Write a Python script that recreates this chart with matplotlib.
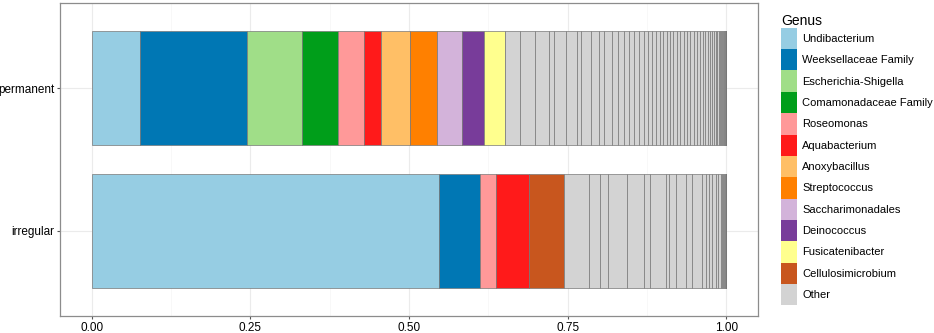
import numpy as np
import matplotlib
matplotlib.use("Agg")
import matplotlib.pyplot as plt
from matplotlib.patches import Patch

# -------- data --------
samples = ["irregular", "permanent"]

genera = ["Undibacterium", "Weeksellaceae Family", "Escherichia-Shigella",
          "Comamonadaceae Family", "Roseomonas", "Aquabacterium", "Anoxybacillus",
          "Streptococcus", "Saccharimonadales", "Deinococcus", "Fusicatenibacter",
          "Cellulosimicrobium", "Other"]

genus_colors = ["#96CDE3", "#0077B4", "#A0DE88", "#009E1A", "#FF9999", "#FF1A1A",
                "#FFBF66", "#FF8000", "#D3B3DA", "#783C9A", "#FFFF8E", "#C8561E",
                "#D3D3D3"]

# named genera, left to right
perm_genera = ["Undibacterium", "Weeksellaceae Family", "Escherichia-Shigella",
               "Comamonadaceae Family", "Roseomonas", "Aquabacterium", "Anoxybacillus",
               "Streptococcus", "Saccharimonadales", "Deinococcus", "Fusicatenibacter"]
perm_values = [0.076, 0.170, 0.086, 0.058, 0.041, 0.027, 0.045, 0.043, 0.039, 0.036, 0.032]

irr_genera = ["Undibacterium", "Weeksellaceae Family", "Roseomonas", "Aquabacterium",
              "Cellulosimicrobium"]
irr_values = [0.547, 0.065, 0.026, 0.052, 0.054]

# the many small "Other" genera
perm_other = [0.0245, 0.0236, 0.0226, 0.0079, 0.0182, 0.0168, 0.0068, 0.0157, 0.0132,
              0.0079, 0.0119, 0.0105, 0.0090, 0.0079, 0.0079, 0.0079, 0.0079, 0.0068,
              0.0063, 0.0055, 0.0063, 0.0055, 0.0055, 0.0053, 0.0055, 0.0052, 0.0055,
              0.0052, 0.0053, 0.0052, 0.0053, 0.0052, 0.0045, 0.0052, 0.0040, 0.0040,
              0.0035, 0.0032, 0.0030, 0.0028, 0.0025, 0.0022, 0.0020, 0.0018, 0.0015,
              0.0012, 0.0010, 0.0008, 0.0006, 0.0005, 0.0004, 0.0003, 0.0003, 0.0002,
              0.0002, 0.0002, 0.0001, 0.0001, 0.0001, 0.0001, 0.0001, 0.0001, 0.0001]
irr_other = [0.0409, 0.0168, 0.0119, 0.0299, 0.0278, 0.0090, 0.0251, 0.0041, 0.0126,
             0.0157, 0.0085, 0.0167, 0.0053, 0.0052, 0.0052, 0.0053, 0.0041, 0.0038,
             0.0025, 0.0015, 0.0012, 0.0010, 0.0008, 0.0005, 0.0003, 0.0002, 0.0002,
             0.0001, 0.0001, 0.0001, 0.0001, 0.0001]

xticks = [0.0, 0.25, 0.5, 0.75, 1.0]
xticklabels = ["0.00", "0.25", "0.50", "0.75", "1.00"]

# -------- plotting --------
color_of = dict(zip(genera, genus_colors))
plt.rcParams["font.family"] = ["Liberation Sans", "DejaVu Sans"]

fig = plt.figure(figsize=(9.34, 3.33), dpi=100)
ax = fig.add_axes([60 / 934, 17 / 333, 698 / 934, 313 / 333])

rows = {
    "permanent": (perm_genera + ["Other"] * len(perm_other), perm_values + perm_other),
    "irregular": (irr_genera + ["Other"] * len(irr_other), irr_values + irr_other),
}

for i, s in enumerate(samples):
    names, vals = rows[s]
    vals = np.array(vals) / np.sum(vals)  # position = "fill"
    left = 0.0
    for name, v in zip(names, vals):
        ax.barh(i, v, left=left, height=0.8, color=color_of[name],
                edgecolor="#777777", linewidth=0.5, zorder=3)
        left += v

ax.set_xlim(-0.05, 1.05)
ax.set_ylim(-0.6, 1.6)
ax.set_yticks(range(len(samples)))
ax.set_yticklabels(samples)
ax.set_xticks(xticks)
ax.set_xticklabels(xticklabels)
ax.set_xticks([0.125, 0.375, 0.625, 0.875], minor=True)

ax.grid(True, which="major", color="#EBEBEB", linewidth=0.8, zorder=0)
ax.grid(True, which="minor", axis="x", color="#F5F5F5", linewidth=0.5, zorder=0)
ax.tick_params(axis="both", which="major", length=2.5, color="#555555",
               labelsize=8.5, labelcolor="black", pad=1.5)
ax.tick_params(axis="both", which="minor", length=0)
for sp in ax.spines.values():
    sp.set_color("#8c8c8c")
    sp.set_linewidth(0.9)

handles = [Patch(facecolor=c, edgecolor="none", label=g)
           for g, c in zip(genera, genus_colors)]
leg = fig.legend(handles=handles, title="Genus", loc="upper left",
                 bbox_to_anchor=(773 / 934, 1 - 6 / 333), frameon=False,
                 fontsize=8, title_fontsize=10, handlelength=1.45, handleheight=2.58,
                 handletextpad=0.5, labelspacing=0.0, borderaxespad=0.3)
leg._legend_box.align = "left"

fig.savefig("out.png", dpi=100)
